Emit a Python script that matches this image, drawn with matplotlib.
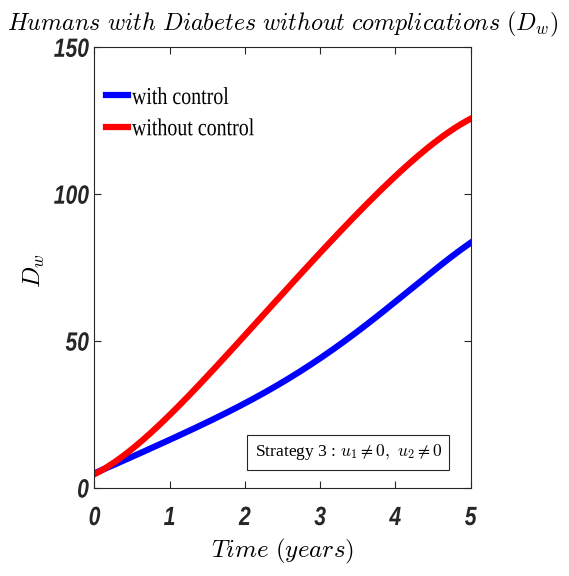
import numpy as np
import matplotlib
matplotlib.use("Agg")
import matplotlib.pyplot as plt
from matplotlib.patheffects import AbstractPathEffect
from matplotlib.transforms import Affine2D

plt.rcParams["mathtext.fontset"] = "cm"

# Time grid (years) and model output read at those times
t = [0, 0.25, 0.5, 0.75, 1, 1.5, 2, 2.5, 3, 3.5, 4, 4.5, 5]
dw_control = [5, 7.8, 10.6, 13.5, 16.3, 22.5, 29, 35.8, 44, 53.5, 63.5, 73.6, 83.5]
dw_no_control = [5, 8.2, 12.8, 18.8, 25.5, 38.3, 51.5, 66, 80, 93.8, 106.3, 116.8, 125.8]

x_ticks = [0, 1, 2, 3, 4, 5]
y_ticks = [0, 50, 100, 150]


class Narrow(AbstractPathEffect):
    """Squeeze text horizontally to mimic a condensed face."""

    def __init__(self, sx=0.75, anchor="center"):
        super().__init__()
        self.sx = sx
        self.anchor = anchor

    def draw_path(self, renderer, gc, tpath, affine, rgbFace=None):
        ext = tpath.get_extents()
        if self.anchor == "left":
            cx = ext.x0
        elif self.anchor == "right":
            cx = ext.x1
        else:
            cx = 0.5 * (ext.x0 + ext.x1)
        squeeze = Affine2D().translate(-cx, 0).scale(self.sx, 1).translate(cx, 0)
        renderer.draw_path(gc, tpath, squeeze + affine, rgbFace)


# smooth the sampled curves with a polynomial through the points
def smooth(x, y, n=300):
    from numpy.polynomial import polynomial as P
    xs = np.linspace(min(x), max(x), n)
    c = P.polyfit(x, y, 5)
    return xs, P.polyval(xs, c)


edge = "#262626"
fig = plt.figure(figsize=(5.69, 5.76), dpi=100)
ax = fig.add_axes([0.166, 0.1528, 0.661, 0.7651])

xs, ys = smooth(t, dw_control)
ax.plot(xs, ys, color="blue", lw=4.5, label="with control")
xs, ys = smooth(t, dw_no_control)
ax.plot(xs, ys, color="red", lw=4.5, label="without control")

ax.set_xlim(0, 5)
ax.set_ylim(0, 150)
ax.set_xticks(x_ticks)
ax.set_yticks(y_ticks)

tick_font = dict(family=["Liberation Sans", "DejaVu Sans"],
                 weight="bold", style="italic", size=19, color=edge)
ax.set_xticklabels([str(v) for v in x_ticks], **tick_font)
ax.set_yticklabels([str(v) for v in y_ticks], **tick_font)
for lab in ax.get_xticklabels():
    lab.set_path_effects([Narrow(0.8, "center")])
for lab in ax.get_yticklabels():
    lab.set_path_effects([Narrow(0.8, "right")])
ax.tick_params(axis="x", pad=13)
ax.tick_params(axis="y", pad=4)
ax.tick_params(direction="in", length=5, width=0.8, colors=edge,
               top=True, right=True)
for s in ax.spines.values():
    s.set_color(edge)
    s.set_linewidth(0.8)

ax.set_title(r"$Humans\ with\ Diabetes\ without\ complications\ (D_w)$",
             fontsize=17.3, pad=12)
ax.set_xlabel(r"$Time\ (years)$", fontsize=18)
ax.xaxis.set_label_coords(0.5, -0.11)
ax.set_ylabel(r"$D_w$", fontsize=18)
ax.yaxis.set_label_coords(-0.126, 0.494)

leg = ax.legend(loc="upper left", frameon=False, handlelength=0.93,
                handletextpad=0.15, labelspacing=0.38, borderaxespad=0.0,
                bbox_to_anchor=(0.004, 0.932),
                prop=dict(family="Liberation Serif", size=17.5))
for txt in leg.get_texts():
    txt.set_path_effects([Narrow(0.82, "left")])

box = ax.text(0.675, 0.081, r"Strategy 3 : $u_1 \neq 0,\ u_2 \neq 0$",
              transform=ax.transAxes, ha="center", va="center",
              family="Liberation Serif", fontsize=12.6,
              bbox=dict(boxstyle="square,pad=0.42", fc="white", ec=edge, lw=0.8))

fig.savefig("out.png", dpi=100)
